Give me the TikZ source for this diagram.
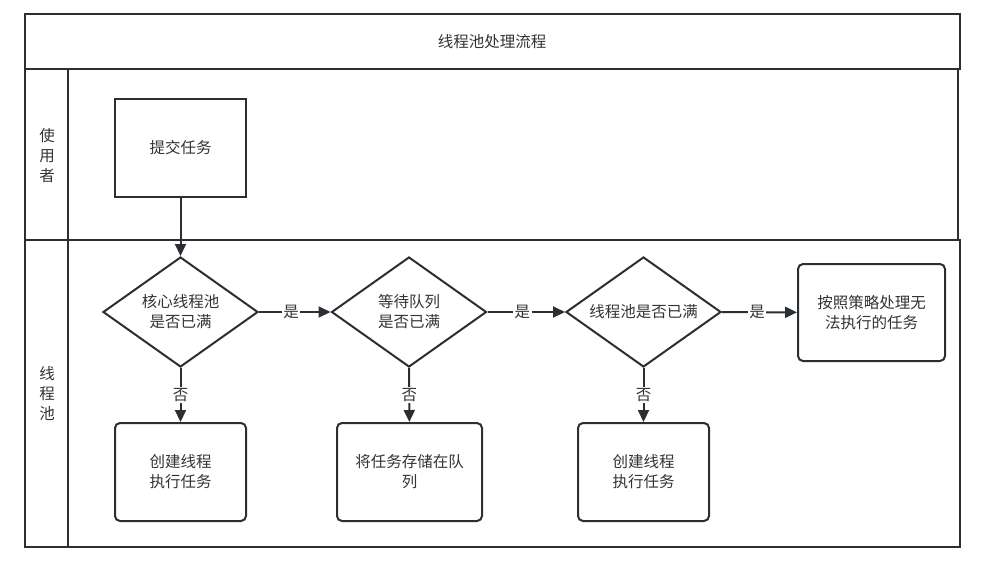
\documentclass[tikz,border=0pt]{standalone}
\usepackage{fontspec}
\setmainfont{Noto Sans CJK SC}
\usetikzlibrary{shapes.geometric,arrows.meta}
\definecolor{ink}{HTML}{333333}
\definecolor{edge}{HTML}{2B2F33}
\tikzset{
  lane/.style={draw=edge, line width=2pt},
  txt/.style={text=ink, font=\fontsize{15.5}{20}\selectfont, align=center},
  proc/.style={txt, draw=edge, line width=2pt, minimum width=131pt, minimum height=98pt, inner sep=2pt},
  rproc/.style={proc, rounded corners=5pt},
  decide/.style={txt, diamond, draw=edge, line width=2pt, minimum width=155pt, minimum height=110pt, aspect=1.41, inner sep=0pt},
  flow/.style={draw=edge, line width=2pt, -{Triangle[length=12pt,width=11pt]}},
  lbl/.style={txt, fill=white, inner sep=1.5pt},
}
\begin{document}
\begin{tikzpicture}[x=1pt,y=-1pt]
\useasboundingbox (0,0) rectangle (982,568);
% pool frame
\draw[lane] (25,14) rectangle (960,69);
\draw[lane] (25,69) rectangle (958,240);
\draw[lane] (25,240) rectangle (960,547);
\draw[lane] (68,69) -- (68,547);
\node[txt] (title) at (492,42) {线程池处理流程};
\node[txt, text width=17pt] (laneA) at (47,156) {使\\用\\者};
\node[txt, text width=17pt] (laneB) at (47,394) {线\\程\\池};
% nodes
\node[proc] (submit) at (180.5,148) {提交任务};
\node[decide] (d1) at (180.5,312) {核心线程池\\是否已满};
\node[decide] (d2) at (409,312) {等待队列\\是否已满};
\node[decide] (d3) at (643.5,312) {线程池是否已满};
\node[rproc, minimum width=147pt, minimum height=97pt, text width=125pt] (reject) at (871.5,312.5) {按照策略处理无\\法执行的任务};
\node[rproc] (b1) at (180.5,472) {创建线程\\执行任务};
\node[rproc, minimum width=145pt] (b2) at (409.5,472) {将任务存储在队\\列};
\node[rproc] (b3) at (643.5,472) {创建线程\\执行任务};
% connectors
\draw[flow] (submit) -- (d1);
\draw[flow] (d1) -- node[lbl, pos=0.45] {是} (d2);
\draw[flow] (d2) -- node[lbl, pos=0.45] {是} (d3);
\draw[flow] (d3) -- node[lbl, pos=0.47] {是} (reject);
\draw[flow] (d1) -- node[lbl, pos=0.5] {否} (b1);
\draw[flow] (d2) -- node[lbl, pos=0.5] {否} (b2);
\draw[flow] (d3) -- node[lbl, pos=0.5] {否} (b3);
\end{tikzpicture}
\end{document}
